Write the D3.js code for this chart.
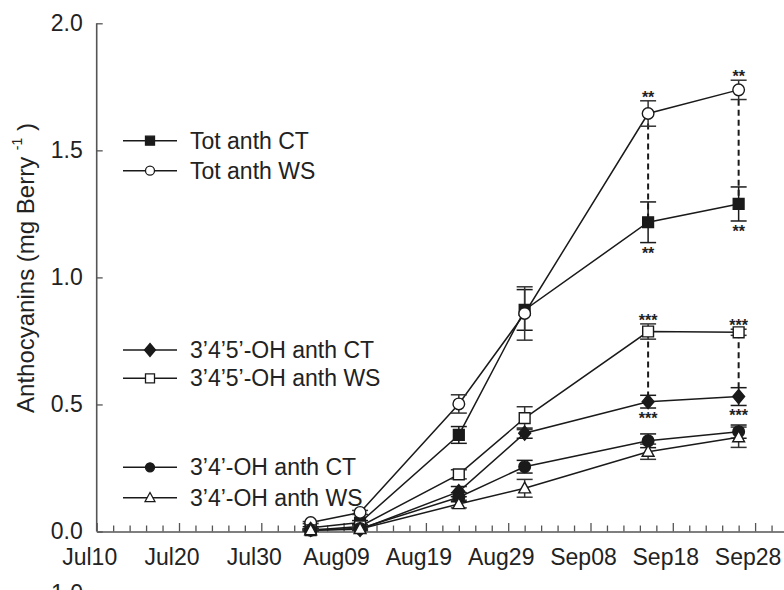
<!DOCTYPE html>
<html>
<head>
<meta charset="utf-8">
<script src="https://cdn.jsdelivr.net/npm/d3@7/dist/d3.min.js"></script>
<style>
  html, body { margin: 0; padding: 0; background: #fff; }
  svg { display: block; font-family: "Liberation Sans", Arial, sans-serif; }
</style>
</head>
<body>
<svg id="chart" width="784" height="590"></svg>
<script>
// ---------------- DATA ----------------
const sampleDates = ["2012-08-05", "2012-08-11", "2012-08-23", "2012-08-31", "2012-09-15", "2012-09-26"];

const seriesNames = ["Tot anth CT", "Tot anth WS", "3’4’5’-OH anth CT", "3’4’5’-OH anth WS", "3’4’-OH anth CT", "3’4’-OH anth WS"];

const totCT      = [0.015, 0.035, 0.380, 0.872, 1.217, 1.289];
const totCTErr   = [0.004, 0.008, 0.033, 0.080, 0.080, 0.067];
const totWS      = [0.035, 0.075, 0.502, 0.858, 1.645, 1.738];
const totWSErr   = [0.004, 0.008, 0.036, 0.105, 0.050, 0.038];
const triCT      = [0.008, 0.008, 0.157, 0.387, 0.511, 0.531];
const triCTErr   = [0.003, 0.004, 0.020, 0.020, 0.025, 0.035];
const triWS      = [0.005, 0.020, 0.225, 0.446, 0.787, 0.784];
const triWSErr   = [0.003, 0.005, 0.018, 0.045, 0.030, 0.012];
const diCT       = [0.005, 0.012, 0.135, 0.255, 0.357, 0.393];
const diCTErr    = [0.003, 0.004, 0.018, 0.025, 0.027, 0.026];
const diWS       = [0.005, 0.010, 0.108, 0.170, 0.314, 0.371];
const diWSErr    = [0.003, 0.004, 0.015, 0.035, 0.030, 0.040];

const yTicks = [0.0, 0.5, 1.0, 1.5, 2.0];
const xTickLabels = ["Jul10", "Jul20", "Jul30", "Aug09", "Aug19", "Aug29", "Sep08", "Sep18", "Sep28"];

// significance marks at these sample indices
const sigDateIdx = [4, 5];
const sigTotLabel = "**";
const sigTriLabel = "***";

// ---------------- SETUP ----------------
const svg = d3.select("#chart");
const parse = d3.utcParse("%Y-%m-%d");
const dates = sampleDates.map(parse);
const xStart = parse("2012-07-10");
const xEnd = d3.utcDay.offset(xStart, 86);

const x = d3.scaleUtc().domain([xStart, xEnd]).range([96.7, 96.7 + 86 * 8.23]);
const y = d3.scaleLinear().domain([0, 2]).range([531.5, 23.3]);

const ink = "#1a1a1a";
const axisCol = "#555";

const series = [
  { name: seriesNames[0], v: totCT, e: totCTErr, shape: "square",   fill: ink },
  { name: seriesNames[1], v: totWS, e: totWSErr, shape: "circle",   fill: "#fff" },
  { name: seriesNames[2], v: triCT, e: triCTErr, shape: "diamond",  fill: ink },
  { name: seriesNames[3], v: triWS, e: triWSErr, shape: "square",   fill: "#fff" },
  { name: seriesNames[4], v: diCT,  e: diCTErr,  shape: "circle",   fill: ink },
  { name: seriesNames[5], v: diWS,  e: diWSErr,  shape: "triangle", fill: "#fff" }
];

function markerPath(shape, r) {
  switch (shape) {
    case "square":  return `M${-r},${-r}H${r}V${r}H${-r}Z`;
    case "circle":  { const p = d3.path(); p.arc(0, 0, r, 0, 2 * Math.PI); p.closePath(); return p.toString(); }
    case "diamond": return `M0,${-r * 1.3}L${r * 1.1},0L0,${r * 1.3}L${-r * 1.1},0Z`;
    case "triangle": return `M0,${-r * 1.15}L${r * 1.1},${r * 0.85}L${-r * 1.1},${r * 0.85}Z`;
  }
}

// ---------------- AXES ----------------
const xAxis = d3.axisBottom(x)
  .tickValues(d3.utcDay.range(xStart, xEnd, 2))
  .tickSize(0)
  .tickFormat("");
const gx = svg.append("g").attr("transform", `translate(0,${y(0)})`).call(xAxis);
gx.select(".domain").attr("stroke", axisCol).attr("stroke-width", 1.6);
gx.selectAll(".tick line").remove();
gx.selectAll(".tick").each(function (d) {
  const day = Math.round((d - xStart) / 864e5);
  const major = day % 10 === 0;
  d3.select(this).append("line")
    .attr("y1", 0).attr("y2", major ? -8.5 : -6)
    .attr("stroke", axisCol).attr("stroke-width", 1.3);
});
const xMajor = xTickLabels.map((t, i) => d3.utcDay.offset(xStart, i * 10));
svg.append("g").selectAll("text").data(xMajor).join("text")
  .attr("x", d => x(d) - 7)
  .attr("y", 565)
  .attr("text-anchor", "middle")
  .attr("font-size", 23)
  .attr("fill", "#222")
  .text((d, i) => xTickLabels[i]);

const yAxis = d3.axisLeft(y).tickValues(yTicks).tickSize(-6).tickPadding(14).tickFormat(d3.format(".1f"));
const gy = svg.append("g").attr("transform", `translate(${x(xStart)},0)`).call(yAxis);
gy.select(".domain").attr("stroke", axisCol).attr("stroke-width", 1.6).attr("d", `M0,${y(0)}V${y(2)}`);
gy.selectAll(".tick line").attr("stroke", axisCol).attr("stroke-width", 1.3);
gy.selectAll(".tick text").attr("font-size", 23).attr("fill", "#222")
  .attr("font-family", '"Liberation Sans", Arial, sans-serif');

// y title
const yt = svg.append("text")
  .attr("transform", `translate(25,268) rotate(-90)`)
  .attr("text-anchor", "middle")
  .attr("dominant-baseline", "central")
  .attr("font-size", 24)
  .attr("fill", "#222");
yt.append("tspan").text("Anthocyanins (mg Berry ");
yt.append("tspan").attr("font-size", 14).attr("dy", -8).text("-1");
yt.append("tspan").attr("dy", 8).text(" )");

// top of the next panel's tick label (cut by the frame, as in the reference)
svg.append("text").attr("x", 83).attr("y", 601).attr("text-anchor", "end")
  .attr("font-size", 23).attr("fill", "#222").text("1.0");

// ---------------- PLOT ----------------
const line = d3.line().x((d, i) => x(dates[i])).y(d => y(d));

const pairs = [[0, 1], [2, 3]];
pairs.forEach(([a, b]) => {
  sigDateIdx.forEach(i => {
    svg.append("line")
      .attr("x1", x(dates[i])).attr("x2", x(dates[i]))
      .attr("y1", y(series[b].v[i])).attr("y2", y(series[a].v[i]))
      .attr("stroke", ink).attr("stroke-width", 2).attr("stroke-dasharray", "6,4");
  });
});

series.forEach(s => {
  svg.append("path").attr("d", line(s.v))
    .attr("fill", "none").attr("stroke", ink).attr("stroke-width", 1.5);
});

series.forEach(s => {
  const g = svg.append("g").attr("stroke", s.fill === "#fff" ? "#333" : ink).attr("stroke-width", 1.5);
  s.v.forEach((v, i) => {
    const cx = x(dates[i]);
    const y1 = y(v + s.e[i]), y2 = y(v - s.e[i]);
    g.append("line").attr("x1", cx).attr("x2", cx).attr("y1", y1).attr("y2", y2);
    g.append("line").attr("x1", cx - 8).attr("x2", cx + 8).attr("y1", y1).attr("y2", y1);
    g.append("line").attr("x1", cx - 8).attr("x2", cx + 8).attr("y1", y2).attr("y2", y2);
  });
});

series.forEach(s => {
  const r = s.shape === "circle" ? 5.8 : 5.4;
  svg.append("g").selectAll("path").data(s.v).join("path")
    .attr("transform", (d, i) => `translate(${x(dates[i])},${y(d)})`)
    .attr("d", markerPath(s.shape, r))
    .attr("fill", s.fill).attr("stroke", ink).attr("stroke-width", 1.4);
});

function stars(label, cx, cy) {
  svg.append("text").attr("x", cx).attr("y", cy + 9).attr("text-anchor", "middle")
    .attr("font-size", 16).attr("font-weight", "bold").attr("fill", "#222").text(label);
}
[[0, 1, sigTotLabel], [2, 3, sigTriLabel]].forEach(([ct, ws, lab]) => {
  sigDateIdx.forEach(i => {
    const cx = x(dates[i]);
    stars(lab, cx, y(series[ws].v[i] + series[ws].e[i]) - 7);
    stars(lab, cx, y(series[ct].v[i] - series[ct].e[i]) + 7);
  });
});

// ---------------- LEGEND ----------------
const legendY = [140.7, 170.7, 350, 378.3, 467.3, 497.7];
series.forEach((s, i) => {
  const g = svg.append("g").attr("transform", `translate(0,${legendY[i]})`);
  g.append("line").attr("x1", 123).attr("x2", 177).attr("y1", 0).attr("y2", 0)
    .attr("stroke", ink).attr("stroke-width", 1.5);
  g.append("path").attr("transform", "translate(150,0)")
    .attr("d", markerPath(s.shape, s.shape === "diamond" ? 5 : 4.5))
    .attr("fill", s.fill).attr("stroke", ink).attr("stroke-width", 1.3);
  g.append("text").attr("x", 190).attr("y", 0).attr("dominant-baseline", "central")
    .attr("font-size", 23).attr("fill", "#222").text(s.name);
});
</script>
</body>
</html>
